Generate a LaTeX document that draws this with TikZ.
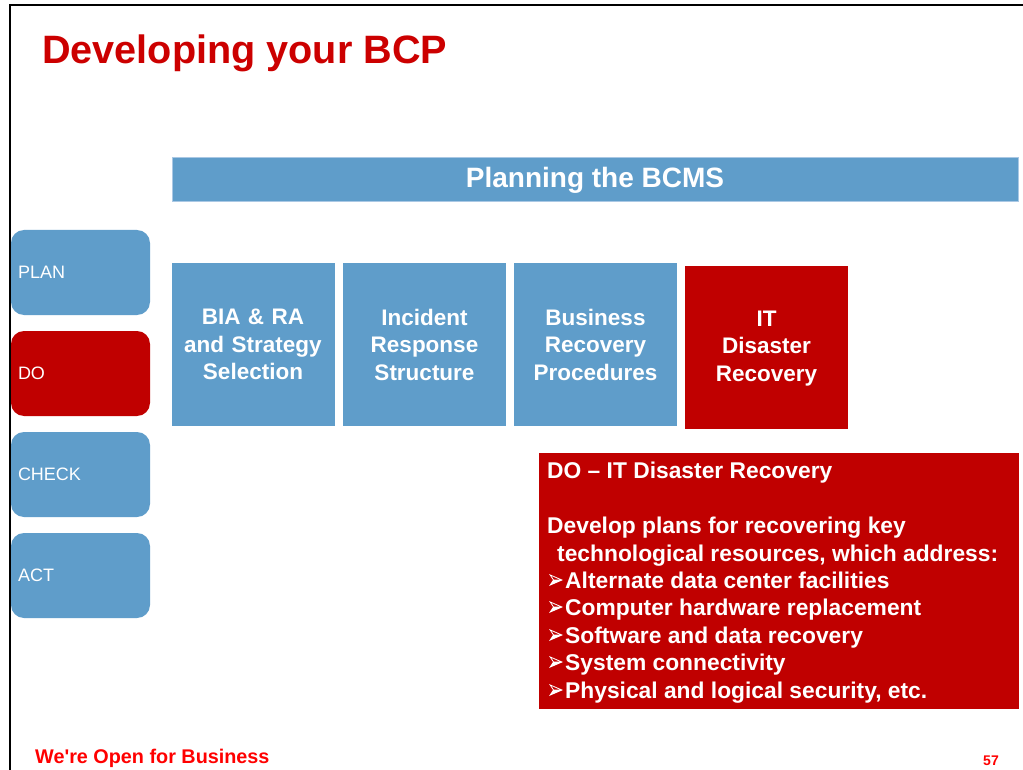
\documentclass[tikz,border=0pt]{standalone}
\usepackage{fontspec}
\setmainfont{Liberation Sans}
\definecolor{bcpblue}{RGB}{95,157,202}
\definecolor{bcpedge}{RGB}{170,200,228}
\definecolor{bcpred}{RGB}{192,0,0}
\definecolor{titlered}{RGB}{204,0,0}
\definecolor{footred}{RGB}{255,0,0}
\tikzset{
  tabbox/.style={rounded corners=13pt, minimum width=139pt, minimum height=85pt,
    inner xsep=7pt, inner ysep=0pt, text width=125pt, align=left, text=white,
    font=\fontsize{18}{21}\selectfont},
  stagebox/.style={minimum width=163pt, minimum height=163pt, inner sep=0pt,
    text width=155pt, align=center, text=white,
    font=\fontsize{22.5}{27.5}\selectfont\bfseries},
  detailline/.style={anchor=base west, inner sep=0pt, text=white,
    font=\fontsize{22.8}{27.5}\selectfont\bfseries},
  arrowbullet/.pic={
    \fill[white] (0,0) -- (14,6) -- (0,12) -- (4,6) -- cycle;
    \fill[bcpred] (2.6,2.1) -- (10.2,5.5) -- (4.9,5.5) -- cycle;
  }
}
\begin{document}
\begin{tikzpicture}[x=1pt,y=-1pt]
\useasboundingbox (0,0) rectangle (1023,770);
\fill[white] (0,0) rectangle (1023,770);
% slide frame
\draw[line width=2.5pt] (10,771) -- (10,5) -- (1024,5);

% title
\node[anchor=base west, inner sep=0pt, text=titlered,
  font=\fontsize{39.6}{44}\selectfont\bfseries] (title) at (42,64) {Developing your BCP};

% banner
\node[fill=bcpblue, draw=bcpedge, line width=0.8pt, minimum width=846pt, minimum height=44pt,
  inner sep=0pt] (banner) at (595,179) {};
\node[inner sep=0pt, anchor=base, text=white, font=\fontsize{28}{30}\selectfont\bfseries]
  (bannertext) at (595,188) {Planning the BCMS};

% PDCA tabs
\node[tabbox, fill=bcpblue] (plan) at (80.5,272.5) {PLAN};
\node[tabbox, fill=bcpred] (do) at (80.5,373.5) {DO};
\node[tabbox, fill=bcpblue] (check) at (80.5,474.5) {CHECK};
\node[tabbox, fill=bcpblue] (act) at (80.5,575.5) {ACT};

% stage boxes
\node[stagebox, fill=bcpblue] (bia) at (253,344.5) {BIA \& RA\\and Strategy\\Selection};
\node[stagebox, fill=bcpblue] (irs) at (424.5,344.5) {Incident\\Response\\Structure};
\node[stagebox, fill=bcpblue] (brp) at (595.5,344.5) {Business\\Recovery\\Procedures};
\node[stagebox, fill=bcpred] (itdr) at (766.5,347.5) {};
\node[inner sep=0pt, text width=155pt, align=center, text=white,
  font=\fontsize{22.5}{27.5}\selectfont\bfseries] (itdrtext) at (766.5,348.5) {IT\\Disaster\\Recovery};

% detail box
\node[fill=bcpred, minimum width=480pt, minimum height=256pt, inner sep=0pt] (detail) at (779,581) {};
\node[detailline] (d1) at (547,478) {DO – IT Disaster Recovery};
\node[detailline] (d2) at (547,533) {Develop plans for recovering key};
\node[detailline] (d3) at (557,561) {technological resources, which address:};
\pic at (549,574) {arrowbullet};
\node[detailline] (d4) at (565,588) {Alternate data center facilities};
\pic at (549,601) {arrowbullet};
\node[detailline] (d5) at (565,615) {Computer hardware replacement};
\pic at (549,629) {arrowbullet};
\node[detailline] (d6) at (565,643) {Software and data recovery};
\pic at (549,656) {arrowbullet};
\node[detailline] (d7) at (565,670) {System connectivity};
\pic at (549,684) {arrowbullet};
\node[detailline] (d8) at (565,698) {Physical and logical security, etc.};

% footer
\node[anchor=base west, inner sep=0pt, text=footred,
  font=\fontsize{19.8}{22}\selectfont\bfseries] (footer) at (35,763) {We\textquotesingle re Open for Business};
\node[anchor=base east, inner sep=0pt, text=footred,
  font=\fontsize{14}{16}\selectfont\bfseries] (pageno) at (999,765) {57};
\end{tikzpicture}
\end{document}
